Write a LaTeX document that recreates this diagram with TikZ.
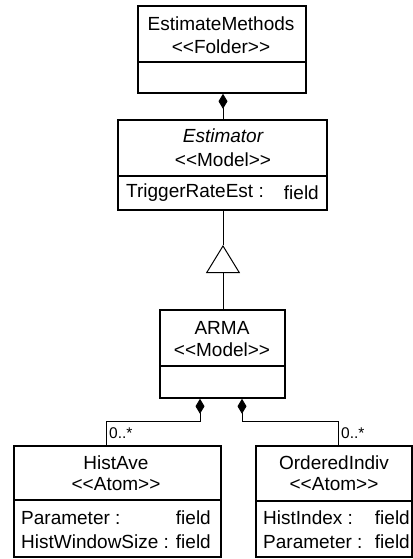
\documentclass[tikz,border=0pt]{standalone}
\usepackage{fontspec}
\setmainfont{Liberation Sans}
\usetikzlibrary{arrows.meta}
\begin{document}
\begin{tikzpicture}[x=1pt,y=-1pt,
  umlbox/.style={draw, line width=1.8pt, inner sep=0pt, anchor=north west},
  divider/.style={line width=1.6pt},
  conn/.style={line width=0.9pt},
  txt/.style={font=\fontsize{19}{22}\selectfont, inner sep=0pt},
  mult/.style={font=\fontsize{15.5}{17}\selectfont, inner sep=0pt, anchor=west},
  comp/.style={{Diamond[length=15pt,width=9pt]}-},
  gen/.style={-{Triangle[open,length=28pt,width=34pt,line width=1pt]}}
]
\useasboundingbox (0,0) rectangle (412,559);

% EstimateMethods folder
\node[umlbox, minimum width=168pt, minimum height=87pt] (em) at (137,5) {};
\draw[divider] (137,62) -- (305,62);
\node[txt] (emname) at (221,24) {EstimateMethods};
\node[txt] (emst) at (221,47) {<{}<Folder>{}>};

% Estimator model
\node[umlbox, minimum width=209pt, minimum height=90pt] (est) at (117,119) {};
\draw[divider] (117,176) -- (326,176);
\node[txt] (estname) at (223,136) {\itshape Estimator};
\node[txt] (estst) at (223,160) {<{}<Model>{}>};
\node[txt, anchor=west] (estf) at (126,193) {TriggerRateEst :};
\node[txt, anchor=east] (estt) at (319,193) {field};

% ARMA model
\node[umlbox, minimum width=125pt, minimum height=88pt] (arma) at (159,309) {};
\draw[divider] (159,366) -- (284,366);
\node[txt] (armaname) at (222,328) {ARMA};
\node[txt] (armast) at (222,350) {<{}<Model>{}>};

% HistAve atom
\node[umlbox, minimum width=207pt, minimum height=111pt] (ha) at (13,445) {};
\draw[divider] (13,500) -- (220,500);
\node[txt] (haname) at (116,463) {HistAve};
\node[txt] (hast) at (116,484) {<{}<Atom>{}>};
\node[txt, anchor=west] (haf1) at (21,518) {Parameter :};
\node[txt, anchor=east] (hat1) at (211,518) {field};
\node[txt, anchor=west] (haf2) at (21,542) {HistWindowSize :};
\node[txt, anchor=east] (hat2) at (211,542) {field};

% OrderedIndiv atom
\node[umlbox, minimum width=156pt, minimum height=111pt] (oi) at (255,445) {};
\draw[divider] (255,501) -- (411,501);
\node[txt] (oiname) at (334,463) {OrderedIndiv};
\node[txt] (oist) at (334,484) {<{}<Atom>{}>};
\node[txt, anchor=west] (oif1) at (263,518) {HistIndex :};
\node[txt, anchor=east] (oit1) at (410,518) {field};
\node[txt, anchor=west] (oif2) at (263,542) {Parameter :};
\node[txt, anchor=east] (oit2) at (410,542) {field};

% composition: folder contains estimator
\draw[conn, comp] (em.south -| 223,0) -- (est.north -| 223,0);

% generalization: ARMA is an Estimator
\coordinate (apex) at (223,245);
\draw[conn, gen] (arma.north -| 223,0) -- (apex);
\draw[conn] (apex) -- (est.south -| 223,0);

% composition: ARMA contains atoms
\coordinate (hajoin) at (106,421);
\coordinate (oijoin) at (338,421);
\draw[conn, comp] (arma.south -| 200,0) -- (200,421) -- (hajoin) -- (ha.north -| hajoin);
\draw[conn, comp] (arma.south -| 242,0) -- (242,421) -- (oijoin) -- (oi.north -| oijoin);
\node[mult] (hamult) at (109,433) {0..*};
\node[mult] (oimult) at (341,433) {0..*};
\end{tikzpicture}
\end{document}
